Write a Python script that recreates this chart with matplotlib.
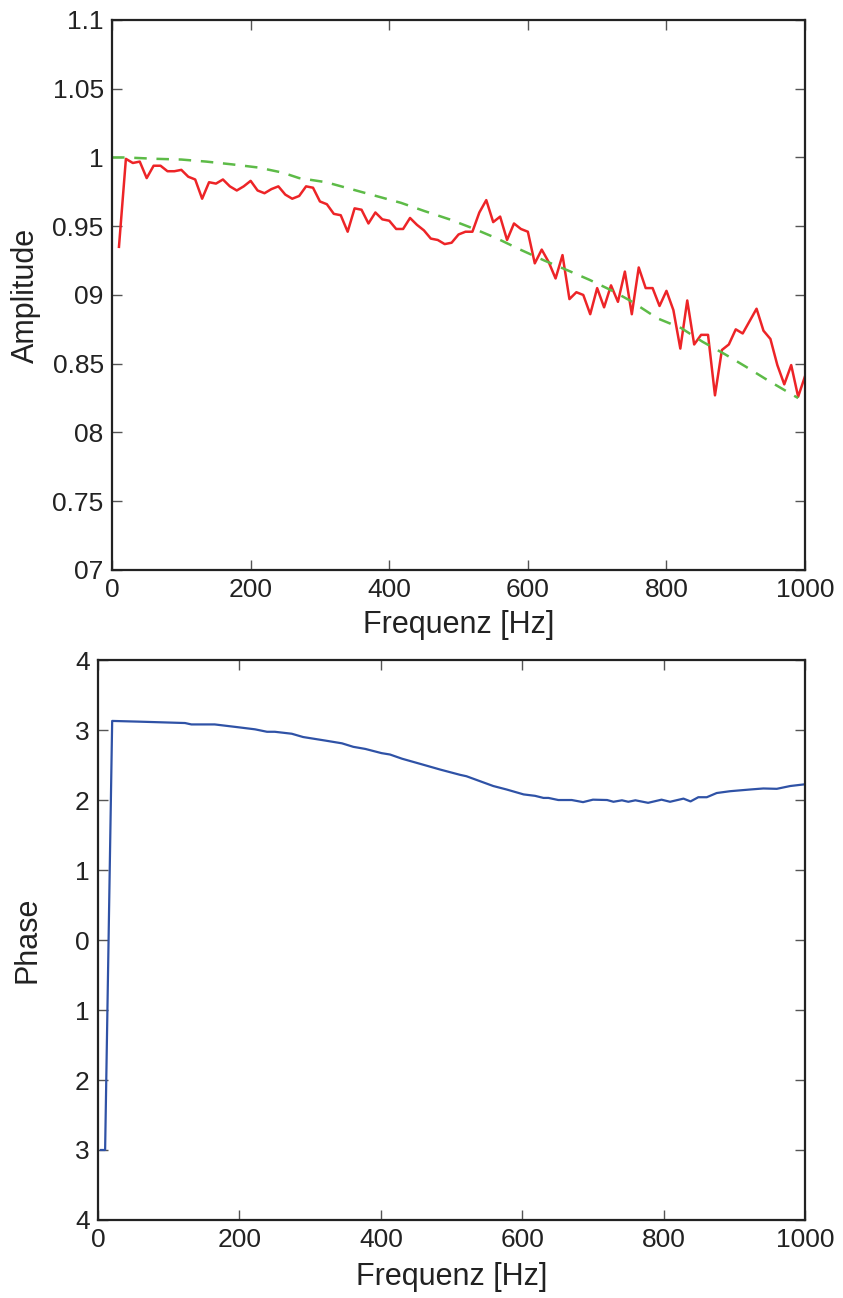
"""Amplitude and phase response plotted against frequency."""

import matplotlib
matplotlib.use("Agg")
import matplotlib.pyplot as plt

# measured amplitude, one point every 10 Hz from 10 to 1000 Hz
AMP_FREQ = list(range(10, 1001, 10))
AMP_MEASURED = [
    0.935, 0.999, 0.996, 0.997, 0.985, 0.994, 0.994, 0.990, 0.990, 0.991,
    0.986, 0.984, 0.970, 0.982, 0.981, 0.984, 0.979, 0.976, 0.979, 0.983,
    0.976, 0.974, 0.977, 0.979, 0.973, 0.970, 0.972, 0.979, 0.978, 0.968,
    0.966, 0.959, 0.958, 0.946, 0.963, 0.962, 0.952, 0.960, 0.955, 0.954,
    0.948, 0.948, 0.956, 0.951, 0.947, 0.941, 0.940, 0.937, 0.938, 0.944,
    0.946, 0.946, 0.960, 0.969, 0.953, 0.957, 0.940, 0.952, 0.948, 0.946,
    0.923, 0.933, 0.924, 0.912, 0.929, 0.897, 0.902, 0.900, 0.886, 0.905,
    0.891, 0.907, 0.895, 0.917, 0.886, 0.920, 0.905, 0.905, 0.892, 0.903,
    0.889, 0.861, 0.896, 0.864, 0.871, 0.871, 0.827, 0.860, 0.864, 0.875,
    0.872, 0.881, 0.890, 0.874, 0.868, 0.849, 0.835, 0.849, 0.826, 0.841,
]

# model amplitude (green dashed curve)
MODEL_FREQ = [0, 20, 65, 100, 136, 173, 211, 246, 270, 309, 345, 381, 417,
              451, 487, 523, 556, 589, 624, 657, 689, 722, 749, 787, 821,
              852, 884, 914, 946, 990]
MODEL_AMP = [1.0, 1.0, 0.999, 0.9985, 0.997, 0.995, 0.9927, 0.989, 0.985,
             0.982, 0.977, 0.972, 0.967, 0.961, 0.955, 0.948, 0.941, 0.933,
             0.925, 0.918, 0.911, 0.903, 0.8955, 0.883, 0.876, 0.866, 0.857,
             0.848, 0.838, 0.825]

# phase response
PHASE_FREQ = [4, 10, 20, 57, 90, 123, 132, 165, 198, 222, 239, 250, 274, 290,
              321, 345, 361, 378, 401, 413, 430, 458, 484, 512, 521, 559, 578,
              602, 618, 630, 637, 651, 670, 686, 700, 720, 729, 741, 750, 760,
              778, 797, 809, 828, 838, 849, 861, 875, 894, 922, 941, 960, 979,
              1000]
PHASE = [-3.0, -3.0, 3.13, 3.12, 3.11, 3.10, 3.08, 3.08, 3.04, 3.01, 2.975,
         2.975, 2.947, 2.90, 2.85, 2.81, 2.76, 2.73, 2.67, 2.65, 2.59, 2.51,
         2.435, 2.36, 2.34, 2.20, 2.15, 2.08, 2.06, 2.03, 2.03, 2.0, 2.0,
         1.97, 2.005, 2.0, 1.975, 1.996, 1.975, 1.996, 1.96, 2.005, 1.975,
         2.02, 1.98, 2.04, 2.04, 2.10, 2.126, 2.15, 2.165, 2.16, 2.2, 2.225]

X_TICKS = [0, 200, 400, 600, 800, 1000]
AMP_TICKS = [0.7, 0.75, 0.8, 0.85, 0.9, 0.95, 1.0, 1.05, 1.1]
AMP_TICK_LABELS = ["07", "0.75", "08", "0.85", "09", "0.95", "1", "1.05", "1.1"]
PHASE_TICKS = [-4, -3, -2, -1, 0, 1, 2, 3, 4]
PHASE_TICK_LABELS = ["4", "3", "2", "1", "0", "1", "2", "3", "4"]

TICK_SIZE = 19
LABEL_SIZE = 22


def style_axes(ax):
    """Matlab-like frame: inward ticks on all four sides."""
    ax.tick_params(direction="in", length=7, width=1, color="#555555",
                   top=True, right=True, labelsize=TICK_SIZE, pad=6,
                   labelcolor="#222222")
    for spine in ax.spines.values():
        spine.set_linewidth(1.6)
        spine.set_color("#222222")


def main() -> None:
    plt.rcParams["font.family"] = ["Liberation Sans", "DejaVu Sans"]
    plt.rcParams["lines.scale_dashes"] = False

    fig = plt.figure(figsize=(8.43, 12.98), dpi=100)
    ax1 = fig.add_axes([0.1329, 0.5609, 0.8221, 0.4237])
    ax2 = fig.add_axes([0.1163, 0.0601, 0.8387, 0.4314])

    ax1.plot(AMP_FREQ, AMP_MEASURED, color="#ED2427", linewidth=1.8)
    ax1.plot(MODEL_FREQ, MODEL_AMP, color="#5DBB47", linewidth=1.8,
             dashes=(9, 7))
    ax1.set_xlim(0, 1000)
    ax1.set_ylim(0.7, 1.1)
    ax1.set_xticks(X_TICKS)
    ax1.set_yticks(AMP_TICKS)
    ax1.set_yticklabels(AMP_TICK_LABELS)
    ax1.set_xlabel("Frequenz [Hz]", fontsize=LABEL_SIZE, color="#222222")
    ax1.set_ylabel("Amplitude", fontsize=LABEL_SIZE, color="#222222")
    ax1.yaxis.set_label_coords(-0.102, 0.5)
    ax1.xaxis.set_label_coords(0.5, -0.073)
    style_axes(ax1)

    ax2.plot(PHASE_FREQ, PHASE, color="#2F52A6", linewidth=1.6)
    ax2.set_xlim(0, 1000)
    ax2.set_ylim(-4, 4)
    ax2.set_xticks(X_TICKS)
    ax2.set_yticks(PHASE_TICKS)
    ax2.set_yticklabels(PHASE_TICK_LABELS)
    ax2.set_xlabel("Frequenz [Hz]", fontsize=LABEL_SIZE, color="#222222")
    ax2.set_ylabel("Phase", fontsize=LABEL_SIZE, color="#222222")
    ax2.yaxis.set_label_coords(-0.078, 0.5)
    ax2.xaxis.set_label_coords(0.5, -0.075)
    style_axes(ax2)

    fig.savefig("out.png", dpi=100)


if __name__ == "__main__":
    main()
